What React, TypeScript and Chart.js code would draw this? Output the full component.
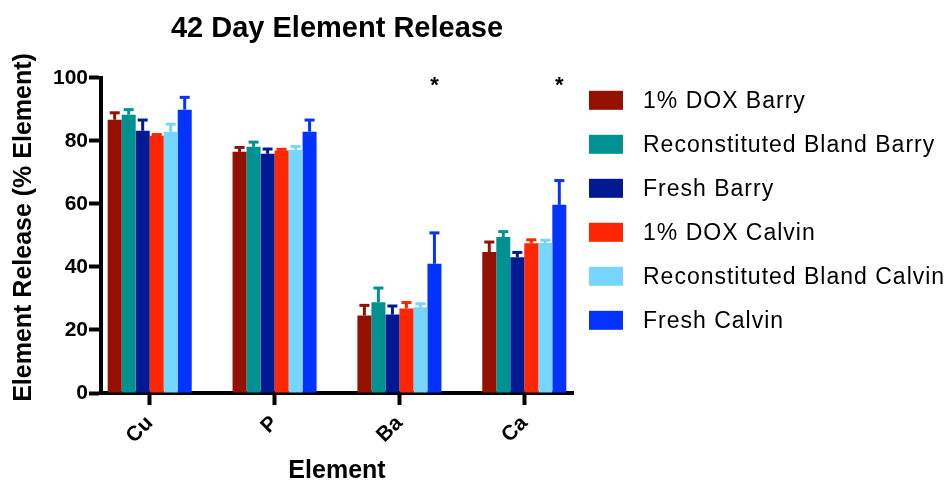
import React, { useEffect, useRef } from "react";
import { Chart, registerables } from "chart.js";

Chart.register(...registerables);

// ---------- data ----------
const CATEGORIES = ["Cu", "P", "Ba", "Ca"];
const SERIES_LABELS = [
  "1% DOX Barry",
  "Reconstituted Bland Barry",
  "Fresh Barry",
  "1% DOX Calvin",
  "Reconstituted Bland Calvin",
  "Fresh Calvin",
];
const SERIES_COLORS = ["#941100", "#009193", "#011993", "#FF2600", "#76D6FF", "#0433FF"];

const DOX_BARRY = [86.7, 76.5, 24.6, 44.7];
const DOX_BARRY_ERR = [2.2, 1.4, 3.2, 3.2];
const RECON_BARRY = [88.3, 78.1, 28.8, 49.5];
const RECON_BARRY_ERR = [1.6, 1.5, 4.5, 1.7];
const FRESH_BARRY = [83.2, 75.9, 24.9, 43.1];
const FRESH_BARRY_ERR = [3.4, 1.5, 2.7, 1.5];
const DOX_CALVIN = [81.6, 76.9, 26.8, 47.5];
const DOX_CALVIN_ERR = [0.4, 0.4, 1.9, 1.1];
const RECON_CALVIN = [82.9, 77.2, 27.2, 47.6];
const RECON_CALVIN_ERR = [2.4, 1.0, 1.1, 0.9];
const FRESH_CALVIN = [89.9, 82.9, 41.0, 59.7];
const FRESH_CALVIN_ERR = [3.9, 3.7, 9.8, 7.7];

const SERIES_VALUES = [DOX_BARRY, RECON_BARRY, FRESH_BARRY, DOX_CALVIN, RECON_CALVIN, FRESH_CALVIN];
const SERIES_ERRORS = [DOX_BARRY_ERR, RECON_BARRY_ERR, FRESH_BARRY_ERR, DOX_CALVIN_ERR, RECON_CALVIN_ERR, FRESH_CALVIN_ERR];

// significance marks above the "Fresh Calvin" bar
const SIGNIFICANCE = ["", "", "*", "*"];
const SIGNIFICANCE_SERIES = 5;
const SIGNIFICANCE_LEVEL = 95.5;

const Y_TICKS = [0, 20, 40, 60, 80, 100];

const TITLE = "42 Day Element Release";
const X_TITLE = "Element";
const Y_TITLE = "Element Release (% Element)";

const FONT = '"Liberation Sans", Arial, Helvetica, sans-serif';

// ---------- plugins ----------
const errorBarPlugin = {
  id: "errorBars",
  afterDatasetsDraw(chart: any) {
    const { ctx } = chart;
    const yScale = chart.scales.y;
    chart.data.datasets.forEach((ds: any, di: number) => {
      const meta = chart.getDatasetMeta(di);
      const errs = SERIES_ERRORS[di];
      meta.data.forEach((bar: any, i: number) => {
        const v = SERIES_VALUES[di][i];
        const e = errs[i];
        const top = yScale.getPixelForValue(v);
        const cap = yScale.getPixelForValue(v + e);
        ctx.save();
        ctx.strokeStyle = SERIES_COLORS[di];
        ctx.lineWidth = 3;
        ctx.beginPath();
        ctx.moveTo(bar.x, top);
        ctx.lineTo(bar.x, cap);
        ctx.stroke();
        ctx.beginPath();
        ctx.moveTo(bar.x - 5, cap);
        ctx.lineTo(bar.x + 5, cap);
        ctx.stroke();
        ctx.restore();
      });
    });
  },
};

const annotationPlugin = {
  id: "annotations",
  afterDraw(chart: any) {
    const { ctx, chartArea } = chart;
    const yScale = chart.scales.y;
    ctx.save();
    // significance asterisks
    const meta = chart.getDatasetMeta(SIGNIFICANCE_SERIES);
    ctx.fillStyle = "#000";
    ctx.font = `bold 22px ${FONT}`;
    ctx.textAlign = "center";
    ctx.textBaseline = "alphabetic";
    SIGNIFICANCE.forEach((s, i) => {
      if (!s) return;
      const bar = meta.data[i];
      ctx.fillText(s, bar.x, yScale.getPixelForValue(SIGNIFICANCE_LEVEL));
    });

    // y-axis title
    ctx.save();
    ctx.font = `bold 25px ${FONT}`;
    ctx.textAlign = "center";
    ctx.textBaseline = "middle";
    ctx.translate(24.5, 227.5);
    ctx.rotate(-Math.PI / 2);
    ctx.fillText(Y_TITLE, 0, 0);
    ctx.restore();

    // legend
    const lx = chartArea.right + 16;
    const ly0 = 100.3;
    const step = 44;
    ctx.font = `23px ${FONT}`;
    (ctx as any).letterSpacing = "1px";
    ctx.textAlign = "left";
    ctx.textBaseline = "middle";
    SERIES_LABELS.forEach((label, i) => {
      const cy = ly0 + i * step;
      ctx.fillStyle = SERIES_COLORS[i];
      ctx.fillRect(lx, cy - 9.5, 34, 19);
      ctx.fillStyle = "#000";
      ctx.fillText(label, lx + 54, cy + 1);
    });
    (ctx as any).letterSpacing = "0px";
    ctx.restore();
  },
};

export default function App() {
  const canvasRef = useRef<HTMLCanvasElement | null>(null);

  useEffect(() => {
    const canvas = canvasRef.current;
    if (!canvas) return;
    Chart.defaults.font.family = FONT;
    Chart.defaults.color = "#000";

    const datasets = SERIES_LABELS.map((label, di) => ({
      label,
      data: SERIES_VALUES[di].map((v, i) => ({ x: i, y: v })),
      backgroundColor: SERIES_COLORS[di],
      borderWidth: 0,
      categoryPercentage: 0.673,
      barPercentage: 1.0,
    }));

    const chart = new Chart(canvas, {
      type: "bar",
      data: { datasets },
      options: {
        animation: false,
        responsive: false,
        devicePixelRatio: 1,
        layout: { padding: { left: 0, right: 375, top: 0, bottom: 0 } },
        plugins: {
          legend: { display: false },
          tooltip: { enabled: false },
          title: {
            display: true,
            text: TITLE,
            fullSize: false,
            color: "#000",
            font: { family: FONT, size: 29, weight: "bold", lineHeight: 1.2 },
            padding: { top: 12, bottom: 31 },
          },
        },
        scales: {
          x: {
            type: "linear",
            offset: false,
            min: -0.39,
            max: 3.39,
            afterBuildTicks: (s: any) => {
              s.ticks = CATEGORIES.map((_, i) => ({ value: i }));
            },
            afterFit: (s: any) => {
              s.height = 89;
            },
            ticks: {
              autoSkip: false,
              minRotation: 45,
              maxRotation: 45,
              padding: 6,
              color: "#000",
              font: { family: FONT, size: 21, weight: "bold" },
              callback: (v: any) => CATEGORIES[Math.round(Number(v))] ?? "",
            },
            grid: {
              display: true,
              offset: false,
              drawOnChartArea: false,
              drawTicks: true,
              tickLength: 12,
              tickWidth: 4,
              tickColor: "#000",
            },
            border: { display: true, color: "#000", width: 4 },
            title: {
              display: true,
              text: X_TITLE,
              color: "#000",
              font: { family: FONT, size: 25, weight: "bold", lineHeight: 1.2 },
              padding: { top: 0, bottom: -4 },
            },
          },
          y: {
            type: "linear",
            min: 0,
            max: 100,
            afterBuildTicks: (s: any) => {
              s.ticks = Y_TICKS.map((v) => ({ value: v }));
            },
            afterFit: (s: any) => {
              s.width = 101;
            },
            ticks: {
              padding: 1,
              color: "#000",
              font: { family: FONT, size: 21, weight: "bold" },
            },
            grid: {
              display: true,
              drawOnChartArea: false,
              drawTicks: true,
              tickLength: 12,
              tickWidth: 4,
              tickColor: "#000",
            },
            border: { display: true, color: "#000", width: 4 },
          },
        },
      } as any,
      plugins: [errorBarPlugin, annotationPlugin],
    });

    return () => chart.destroy();
  }, []);

  return (
    <div style={{ position: "fixed", left: 0, top: 0, width: 948, height: 482, background: "#fff" }}>
      <canvas ref={canvasRef} width={948} height={482} style={{ display: "block", width: 948, height: 482 }} />
    </div>
  );
}
